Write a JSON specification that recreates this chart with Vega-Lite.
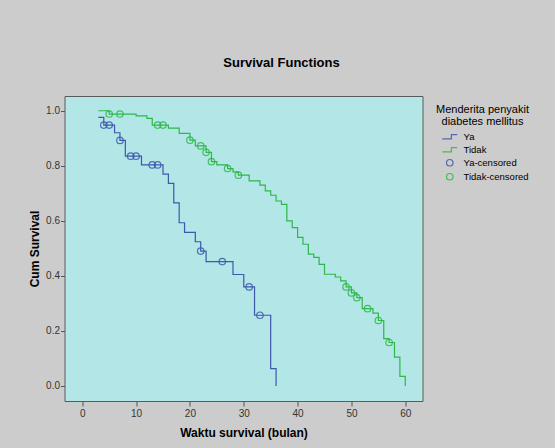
{
  "$schema": "https://vega.github.io/schema/vega-lite/v6.json",
  "autosize": {"type": "none"},
  "width": 358,
  "height": 305,
  "padding": {"left": 64.5, "top": 96, "right": 132.5, "bottom": 47},
  "background": "#cccccc",
  "title": {"text": "Survival Functions", "fontSize": 13, "fontWeight": "bold", "font": "Liberation Sans", "color": "#000000", "anchor": "middle", "dx": 38, "offset": 26},
  "data": {"values": [
    {"series": "Ya", "t": 3, "s": 0.976},
    {"series": "Ya", "t": 4, "s": 0.948},
    {"series": "Ya", "t": 6, "s": 0.92},
    {"series": "Ya", "t": 7, "s": 0.892},
    {"series": "Ya", "t": 8, "s": 0.835},
    {"series": "Ya", "t": 11, "s": 0.803},
    {"series": "Ya", "t": 15, "s": 0.77},
    {"series": "Ya", "t": 16, "s": 0.736},
    {"series": "Ya", "t": 17, "s": 0.665},
    {"series": "Ya", "t": 18, "s": 0.593},
    {"series": "Ya", "t": 19, "s": 0.558},
    {"series": "Ya", "t": 21, "s": 0.524},
    {"series": "Ya", "t": 22, "s": 0.49},
    {"series": "Ya", "t": 23, "s": 0.452},
    {"series": "Ya", "t": 28, "s": 0.405},
    {"series": "Ya", "t": 30, "s": 0.36},
    {"series": "Ya", "t": 32, "s": 0.257},
    {"series": "Ya", "t": 35, "s": 0.063},
    {"series": "Ya", "t": 36, "s": 0.0},
    {"series": "Ya-censored", "t": 4, "s": 0.948},
    {"series": "Ya-censored", "t": 5, "s": 0.948},
    {"series": "Ya-censored", "t": 7, "s": 0.892},
    {"series": "Ya-censored", "t": 9, "s": 0.835},
    {"series": "Ya-censored", "t": 10, "s": 0.835},
    {"series": "Ya-censored", "t": 13, "s": 0.803},
    {"series": "Ya-censored", "t": 14, "s": 0.803},
    {"series": "Ya-censored", "t": 22, "s": 0.49},
    {"series": "Ya-censored", "t": 26, "s": 0.452},
    {"series": "Ya-censored", "t": 31, "s": 0.36},
    {"series": "Ya-censored", "t": 33, "s": 0.257},
    {"series": "Tidak", "t": 3, "s": 1.0},
    {"series": "Tidak", "t": 5, "s": 0.988},
    {"series": "Tidak", "t": 10, "s": 0.981},
    {"series": "Tidak", "t": 12, "s": 0.972},
    {"series": "Tidak", "t": 13, "s": 0.948},
    {"series": "Tidak", "t": 16, "s": 0.937},
    {"series": "Tidak", "t": 18, "s": 0.918},
    {"series": "Tidak", "t": 20, "s": 0.893},
    {"series": "Tidak", "t": 21, "s": 0.872},
    {"series": "Tidak", "t": 23, "s": 0.849},
    {"series": "Tidak", "t": 24, "s": 0.815},
    {"series": "Tidak", "t": 25, "s": 0.803},
    {"series": "Tidak", "t": 27, "s": 0.79},
    {"series": "Tidak", "t": 28, "s": 0.778},
    {"series": "Tidak", "t": 29, "s": 0.766},
    {"series": "Tidak", "t": 31, "s": 0.745},
    {"series": "Tidak", "t": 33, "s": 0.73},
    {"series": "Tidak", "t": 34, "s": 0.709},
    {"series": "Tidak", "t": 35, "s": 0.693},
    {"series": "Tidak", "t": 36, "s": 0.672},
    {"series": "Tidak", "t": 37, "s": 0.66},
    {"series": "Tidak", "t": 38, "s": 0.6},
    {"series": "Tidak", "t": 39, "s": 0.575},
    {"series": "Tidak", "t": 40, "s": 0.54},
    {"series": "Tidak", "t": 41, "s": 0.515},
    {"series": "Tidak", "t": 42, "s": 0.479},
    {"series": "Tidak", "t": 43, "s": 0.467},
    {"series": "Tidak", "t": 44, "s": 0.442},
    {"series": "Tidak", "t": 45, "s": 0.406},
    {"series": "Tidak", "t": 47, "s": 0.396},
    {"series": "Tidak", "t": 48, "s": 0.382},
    {"series": "Tidak", "t": 49, "s": 0.36},
    {"series": "Tidak", "t": 50, "s": 0.338},
    {"series": "Tidak", "t": 51, "s": 0.321},
    {"series": "Tidak", "t": 52, "s": 0.281},
    {"series": "Tidak", "t": 54, "s": 0.265},
    {"series": "Tidak", "t": 55, "s": 0.238},
    {"series": "Tidak", "t": 56, "s": 0.172},
    {"series": "Tidak", "t": 57, "s": 0.158},
    {"series": "Tidak", "t": 58, "s": 0.105},
    {"series": "Tidak", "t": 59, "s": 0.035},
    {"series": "Tidak", "t": 60, "s": 0.0},
    {"series": "Tidak-censored", "t": 5, "s": 0.988},
    {"series": "Tidak-censored", "t": 7, "s": 0.988},
    {"series": "Tidak-censored", "t": 14, "s": 0.948},
    {"series": "Tidak-censored", "t": 15, "s": 0.948},
    {"series": "Tidak-censored", "t": 20, "s": 0.893},
    {"series": "Tidak-censored", "t": 22, "s": 0.872},
    {"series": "Tidak-censored", "t": 23, "s": 0.849},
    {"series": "Tidak-censored", "t": 24, "s": 0.815},
    {"series": "Tidak-censored", "t": 27, "s": 0.79},
    {"series": "Tidak-censored", "t": 29, "s": 0.766},
    {"series": "Tidak-censored", "t": 49, "s": 0.36},
    {"series": "Tidak-censored", "t": 50, "s": 0.338},
    {"series": "Tidak-censored", "t": 51, "s": 0.321},
    {"series": "Tidak-censored", "t": 53, "s": 0.281},
    {"series": "Tidak-censored", "t": 55, "s": 0.238},
    {"series": "Tidak-censored", "t": 57, "s": 0.158}
  ]},
  "encoding": {
    "x": {"field": "t", "type": "quantitative",
      "scale": {"domain": [-3.3, 63.2], "nice": false, "zero": false},
      "axis": {"values": [0, 10, 20, 30, 40, 50, 60], "title": "Waktu survival (bulan)", "tickSize": 5, "labelPadding": 2, "titlePadding": 9}},
    "y": {"field": "s", "type": "quantitative",
      "scale": {"domain": [-0.0545, 1.0535], "nice": false, "zero": false},
      "axis": {"values": [0, 0.2, 0.4, 0.6, 0.8, 1.0], "format": ".1f", "title": "Cum Survival", "tickSize": 4, "labelPadding": 1, "titlePadding": 4}}
  },
  "layer": [
    {
      "transform": [{"filter": {"field": "series", "oneOf": ["Ya", "Tidak"]}}],
      "mark": {"type": "line", "interpolate": "step-after", "strokeWidth": 1.2},
      "encoding": {
        "color": {"field": "series", "type": "nominal",
          "scale": {"domain": ["Ya", "Tidak", "Ya-censored", "Tidak-censored"], "range": ["#3e58ac", "#2eb848", "#3e58ac", "#2eb848"]},
          "legend": {"title": ["Menderita penyakit", "diabetes mellitus"]}}
      }
    },
    {
      "transform": [{"filter": {"field": "series", "oneOf": ["Ya-censored", "Tidak-censored"]}}],
      "mark": {"type": "point", "filled": false, "size": 42, "strokeWidth": 1.2, "opacity": 0.85},
      "encoding": {
        "color": {"field": "series", "type": "nominal",
          "scale": {"domain": ["Ya", "Tidak", "Ya-censored", "Tidak-censored"], "range": ["#3e58ac", "#2eb848", "#3e58ac", "#2eb848"]},
          "legend": {"title": ["Menderita penyakit", "diabetes mellitus"]}},
        "shape": {"field": "series", "type": "nominal",
          "scale": {"domain": ["Ya", "Tidak", "Ya-censored", "Tidak-censored"], "range": ["M-2.3,0.65H0.5V-0.65H2.3", "M-2.3,0.65H0.5V-0.65H2.3", "circle", "circle"]},
          "legend": {"title": ["Menderita penyakit", "diabetes mellitus"]}}
      }
    }
  ],
  "config": {
    "font": "Liberation Sans",
    "view": {"fill": "#b3e6e6", "stroke": "#5a5a5a", "strokeWidth": 1},
    "axis": {"domain": false, "grid": false, "labelFont": "Liberation Sans", "labelFontSize": 10, "labelColor": "#333333", "tickColor": "#555555", "titleFont": "Liberation Sans", "titleFontSize": 12, "titleFontWeight": "bold", "titleColor": "#000000"},
    "legend": {"orient": "none", "legendX": 371, "legendY": 8, "titleFont": "Liberation Sans", "titleFontSize": 11, "titleFontWeight": "normal", "titleColor": "#000000", "titleAnchor": "middle", "titleAlign": "center", "titleLineHeight": 12, "titlePadding": 5, "labelFont": "Liberation Sans", "labelFontSize": 9.5, "labelColor": "#000000", "symbolSize": 42, "symbolStrokeWidth": 1.2, "symbolFillColor": "transparent", "symbolOffset": 9.5, "labelOffset": 9, "rowPadding": 2}
  }
}
